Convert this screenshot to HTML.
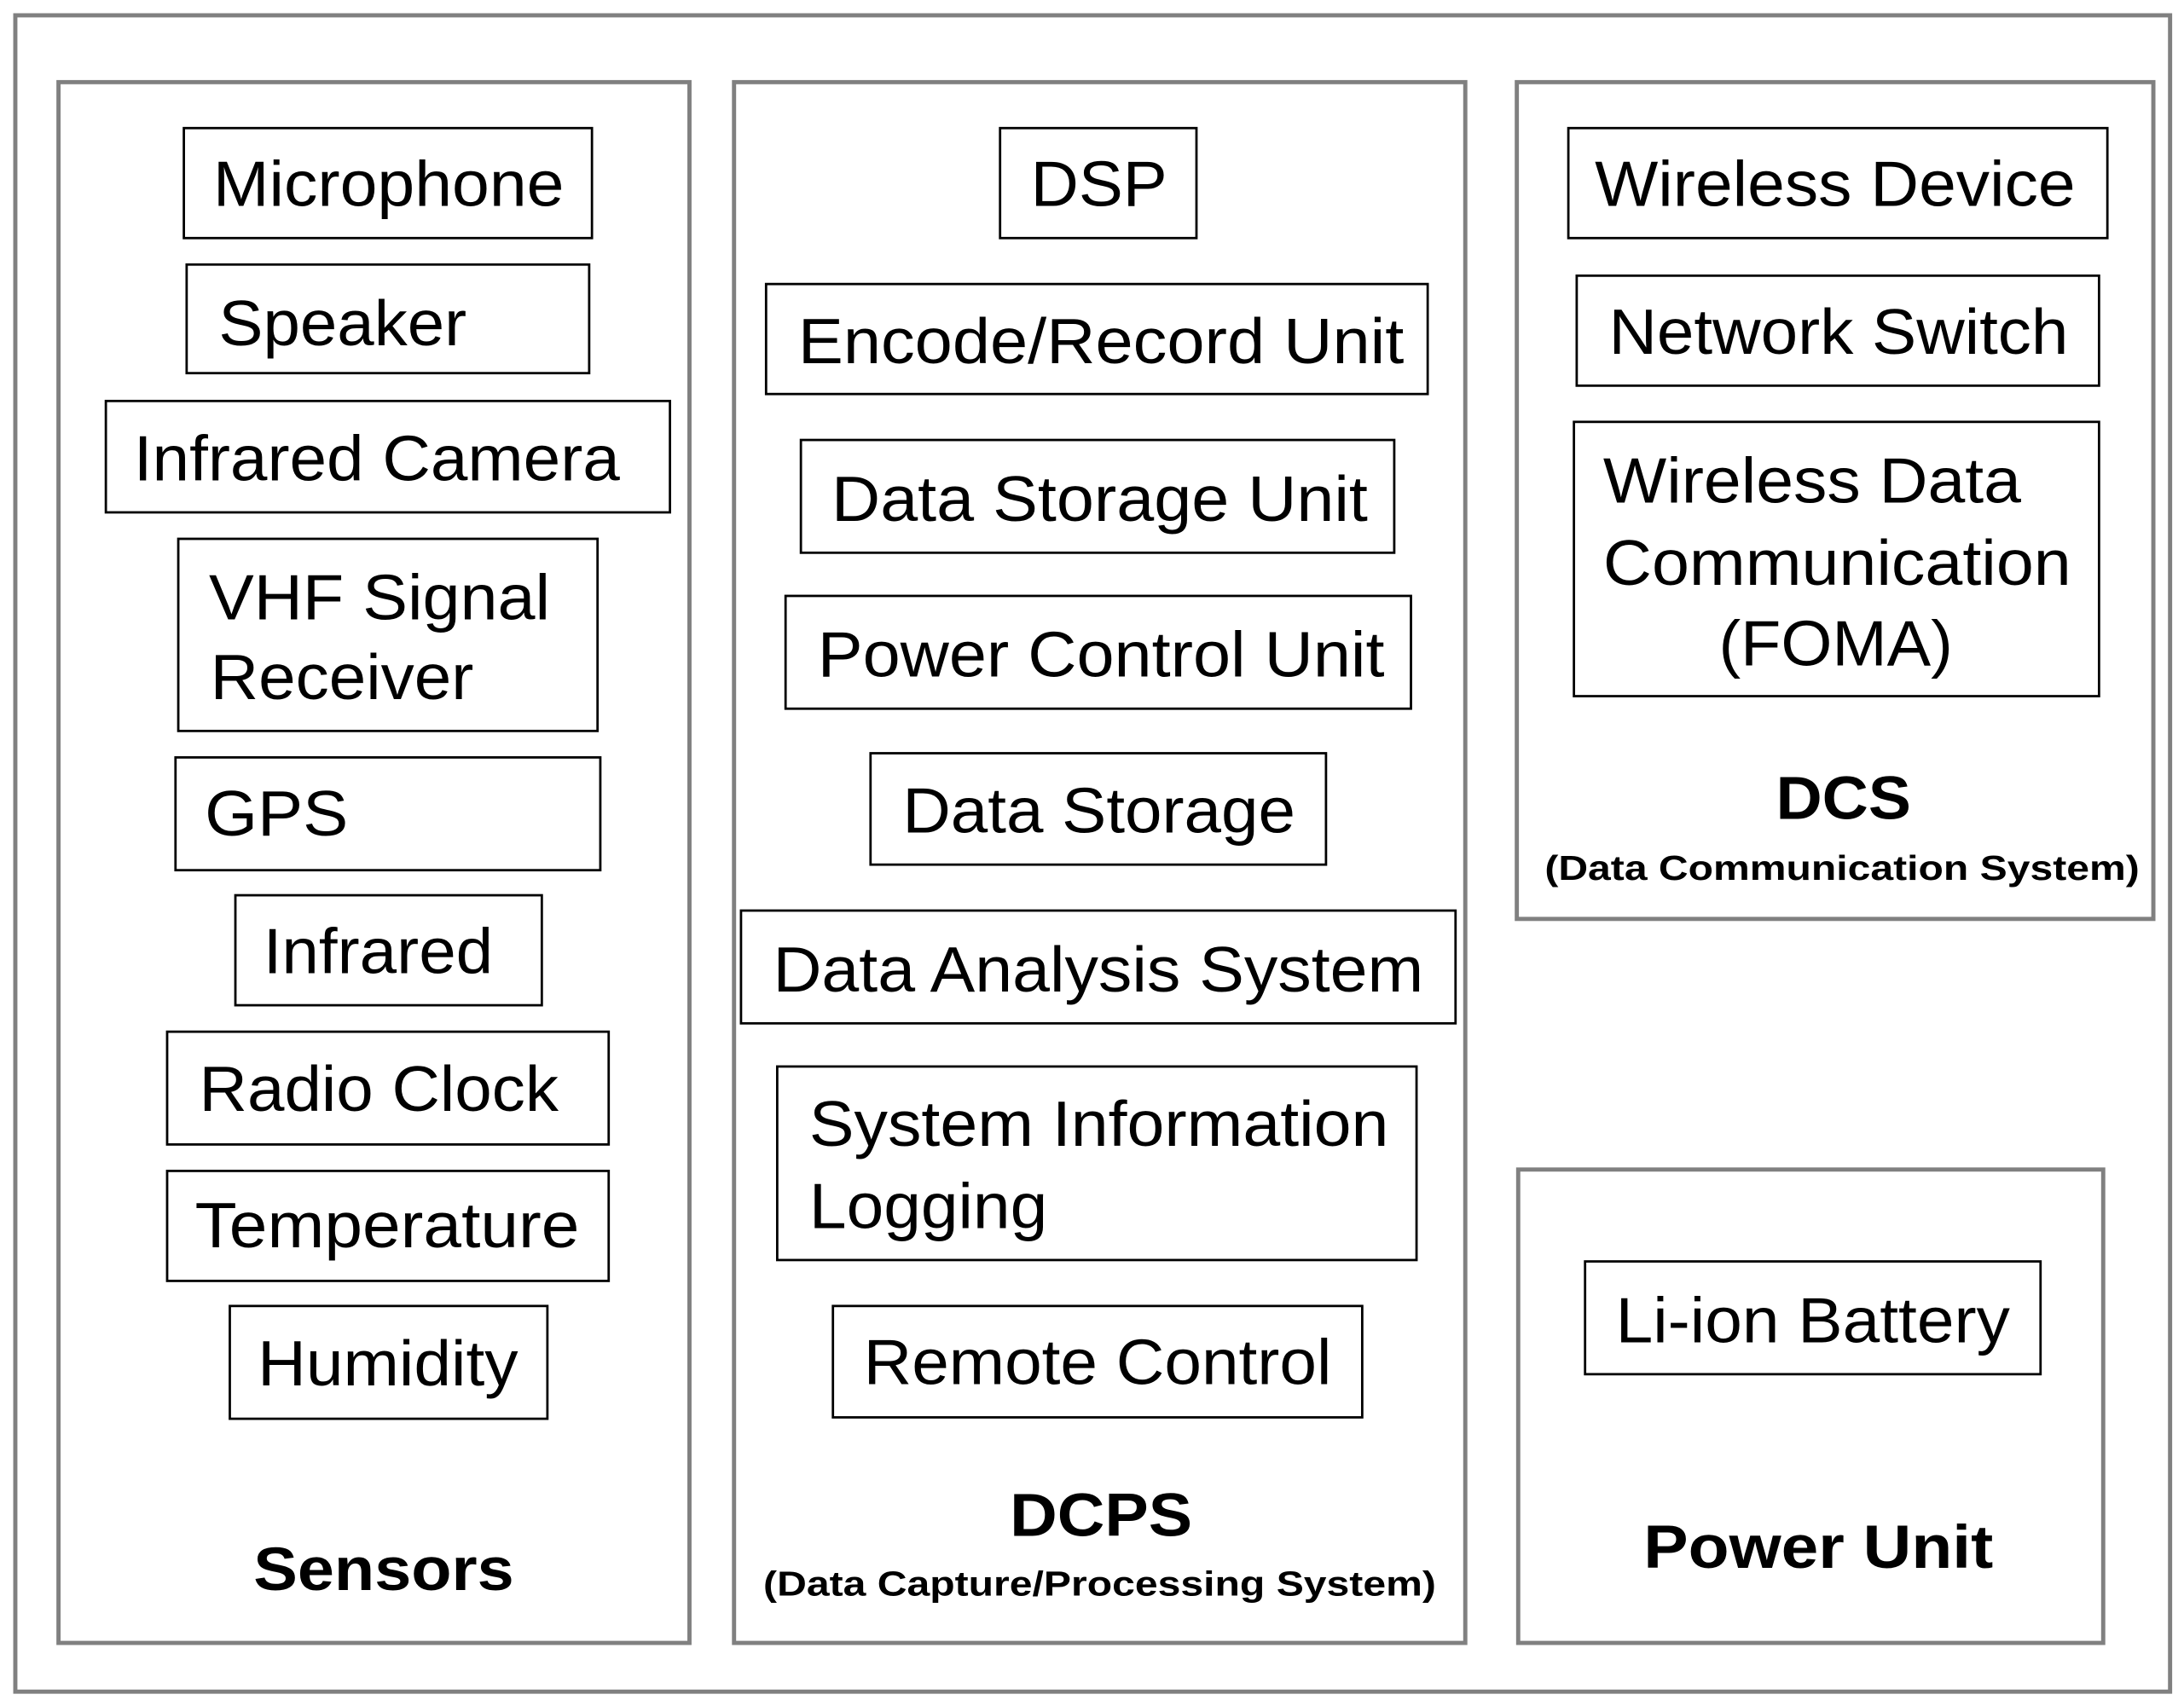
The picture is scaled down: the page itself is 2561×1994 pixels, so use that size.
<!DOCTYPE html>
<html><head><meta charset="utf-8"><style>
html,body{margin:0;padding:0;background:#fff;}
svg{display:block;}
text{font-family:"Liberation Sans",Arial,sans-serif;fill:#000;}
.g{fill:none;stroke:#808080;stroke-width:3;}
.b{fill:#fff;stroke:#000;stroke-width:1.7;}
.t{font-size:46px;}
.h{font-size:44px;font-weight:bold;}
.s{font-size:25px;font-weight:bold;}
</style></head><body>
<svg width="2561" height="1994" viewBox="0 0 1568 1221" preserveAspectRatio="none" xmlns="http://www.w3.org/2000/svg">
<rect x="0" y="0" width="1568" height="1221" fill="#fff"/>
<rect class="g" x="11" y="11" width="1547" height="1204"/>
<rect class="g" x="42" y="59" width="453" height="1121"/>
<rect class="g" x="527" y="59" width="525" height="1121"/>
<rect class="g" x="1089" y="59" width="457" height="601"/>
<rect class="g" x="1090" y="840" width="420" height="340"/>

<rect class="b" x="132" y="92" width="293" height="79"/>
<rect class="b" x="134" y="190" width="289" height="78"/>
<rect class="b" x="76" y="288" width="405" height="80"/>
<rect class="b" x="128" y="387" width="301" height="138"/>
<rect class="b" x="126" y="544" width="305" height="81"/>
<rect class="b" x="169" y="643" width="220" height="79"/>
<rect class="b" x="120" y="741" width="317" height="81"/>
<rect class="b" x="120" y="841" width="317" height="79"/>
<rect class="b" x="165" y="938" width="228" height="81"/>

<rect class="b" x="718" y="92" width="141" height="79"/>
<rect class="b" x="550" y="204" width="475" height="79"/>
<rect class="b" x="575" y="316" width="426" height="81"/>
<rect class="b" x="564" y="428" width="449" height="81"/>
<rect class="b" x="625" y="541" width="327" height="80"/>
<rect class="b" x="532" y="654" width="513" height="81"/>
<rect class="b" x="558" y="766" width="459" height="139"/>
<rect class="b" x="598" y="938" width="380" height="80"/>

<rect class="b" x="1126" y="92" width="387" height="79"/>
<rect class="b" x="1132" y="198" width="375" height="79"/>
<rect class="b" x="1130" y="303" width="377" height="197"/>
<rect class="b" x="1138" y="906" width="327" height="81"/>

<text class="t" x="153" y="148" textLength="252" lengthAdjust="spacingAndGlyphs">Microphone</text>
<text class="t" x="157" y="248" textLength="178" lengthAdjust="spacingAndGlyphs">Speaker</text>
<text class="t" x="96" y="345" textLength="349" lengthAdjust="spacingAndGlyphs">Infrared Camera</text>
<text class="t" x="150" y="445" textLength="245" lengthAdjust="spacingAndGlyphs">VHF Signal</text>
<text class="t" x="151" y="502" textLength="189" lengthAdjust="spacingAndGlyphs">Receiver</text>
<text class="t" x="147" y="600" textLength="103" lengthAdjust="spacingAndGlyphs">GPS</text>
<text class="t" x="189" y="699" textLength="165" lengthAdjust="spacingAndGlyphs">Infrared</text>
<text class="t" x="143" y="798" textLength="258" lengthAdjust="spacingAndGlyphs">Radio Clock</text>
<text class="t" x="140" y="896" textLength="276" lengthAdjust="spacingAndGlyphs">Temperature</text>
<text class="t" x="185" y="995" textLength="187" lengthAdjust="spacingAndGlyphs">Humidity</text>
<text class="h" x="182" y="1142" textLength="187" lengthAdjust="spacingAndGlyphs">Sensors</text>

<text class="t" x="740" y="148" textLength="98" lengthAdjust="spacingAndGlyphs">DSP</text>
<text class="t" x="573" y="261" textLength="435" lengthAdjust="spacingAndGlyphs">Encode/Record Unit</text>
<text class="t" x="597" y="374" textLength="385" lengthAdjust="spacingAndGlyphs">Data Storage Unit</text>
<text class="t" x="587" y="486" textLength="407" lengthAdjust="spacingAndGlyphs">Power Control Unit</text>
<text class="t" x="648" y="598" textLength="282" lengthAdjust="spacingAndGlyphs">Data Storage</text>
<text class="t" x="555" y="712" textLength="467" lengthAdjust="spacingAndGlyphs">Data Analysis System</text>
<text class="t" x="581" y="823" textLength="416" lengthAdjust="spacingAndGlyphs">System Information</text>
<text class="t" x="581" y="882" textLength="171" lengthAdjust="spacingAndGlyphs">Logging</text>
<text class="t" x="620" y="994" textLength="336" lengthAdjust="spacingAndGlyphs">Remote Control</text>
<text class="h" x="725" y="1103" textLength="131" lengthAdjust="spacingAndGlyphs">DCPS</text>
<text class="s" x="548" y="1146" textLength="483" lengthAdjust="spacingAndGlyphs">(Data Capture/Processing System)</text>

<text class="t" x="1145" y="148" textLength="345" lengthAdjust="spacingAndGlyphs">Wireless Device</text>
<text class="t" x="1155" y="254" textLength="330" lengthAdjust="spacingAndGlyphs">Network Switch</text>
<text class="t" x="1151" y="361" textLength="300" lengthAdjust="spacingAndGlyphs">Wireless Data</text>
<text class="t" x="1151" y="420" textLength="336" lengthAdjust="spacingAndGlyphs">Communication</text>
<text class="t" x="1234" y="478" textLength="168" lengthAdjust="spacingAndGlyphs">(FOMA)</text>
<text class="h" x="1275" y="588" textLength="97" lengthAdjust="spacingAndGlyphs">DCS</text>
<text class="s" x="1109" y="632" textLength="427" lengthAdjust="spacingAndGlyphs">(Data Communication System)</text>
<text class="t" x="1160" y="964" textLength="283" lengthAdjust="spacingAndGlyphs">Li-ion Battery</text>
<text class="h" x="1180" y="1126" textLength="251" lengthAdjust="spacingAndGlyphs">Power Unit</text>
</svg>
</body></html>
